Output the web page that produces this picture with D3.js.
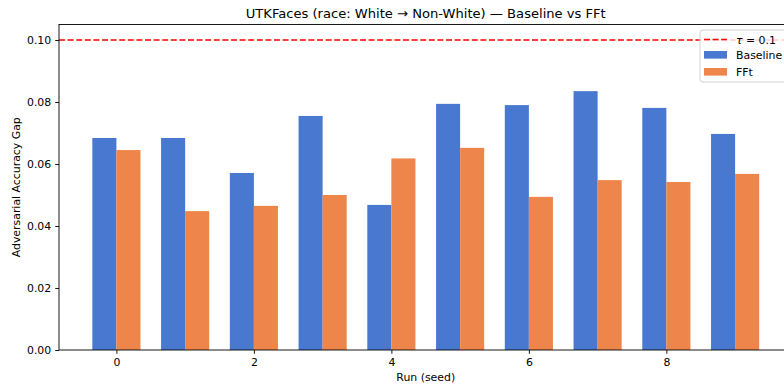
<!DOCTYPE html>
<html>
<head>
<meta charset="utf-8">
<script src="https://cdn.jsdelivr.net/npm/d3@7"></script>
<style>
  body { margin: 0; background: #fff; }
  svg { display: block; font-family: "DejaVu Sans", sans-serif; }
</style>
</head>
<body>
<div id="chart"></div>
<script>
// Data
const runs = [0, 1, 2, 3, 4, 5, 6, 7, 8, 9];
const baseline = [0.0684, 0.0684, 0.0571, 0.0755, 0.0468, 0.0794, 0.0790, 0.0835, 0.0781, 0.0697];
const fft = [0.0645, 0.0448, 0.0465, 0.0500, 0.0618, 0.0652, 0.0494, 0.0548, 0.0542, 0.0568];
const xTicks = [0, 2, 4, 6, 8];
const yTicks = [0, 0.02, 0.04, 0.06, 0.08, 0.10];
const tau = 0.1;

const W = 784, H = 390;
const plot = { left: 59, right: 792.5, top: 24.5, bottom: 350 };
const barW = 0.35;

const svg = d3.select("#chart").append("svg")
    .attr("width", W)
    .attr("height", H);

// matplotlib-like autoscaled domains (5% margins)
const x = d3.scaleLinear()
    .domain([-0.835, 9.835])
    .range([plot.left, plot.right]);

const y = d3.scaleLinear()
    .domain([0, 0.105])
    .range([plot.bottom, plot.top]);

const colors = { baseline: "#4878d0", fft: "#ee854a" };

// Bars
svg.append("g").selectAll("rect.base")
    .data(runs)
    .enter().append("rect")
    .attr("class", "base")
    .attr("x", d => x(d - barW))
    .attr("y", (d, i) => y(baseline[i]))
    .attr("width", d => x(d) - x(d - barW))
    .attr("height", (d, i) => y(0) - y(baseline[i]))
    .attr("fill", colors.baseline);

svg.append("g").selectAll("rect.fft")
    .data(runs)
    .enter().append("rect")
    .attr("class", "fft")
    .attr("x", d => x(d))
    .attr("y", (d, i) => y(fft[i]))
    .attr("width", d => x(d + barW) - x(d))
    .attr("height", (d, i) => y(0) - y(fft[i]))
    .attr("fill", colors.fft);

// Threshold line
svg.append("line")
    .attr("x1", plot.left)
    .attr("x2", plot.right)
    .attr("y1", y(tau))
    .attr("y2", y(tau))
    .attr("stroke", "#ff0000")
    .attr("stroke-width", 1.6)
    .attr("stroke-dasharray", "6,2.6");

// Axes
const xAxis = svg.append("g")
    .attr("transform", `translate(0,${plot.bottom})`)
    .call(d3.axisBottom(x).tickValues(xTicks).tickSize(3.8).tickPadding(4).tickFormat(d3.format("d")));

const yAxis = svg.append("g")
    .attr("transform", `translate(${plot.left},0)`)
    .call(d3.axisLeft(y).tickValues(yTicks).tickSize(3.8).tickPadding(4).tickFormat(d3.format(".2f")));

[xAxis, yAxis].forEach(g => {
    g.select(".domain").remove();
    g.selectAll(".tick line").attr("stroke", "#000").attr("stroke-width", 0.9);
    g.selectAll(".tick text")
        .attr("fill", "#000")
        .style("font-size", "10.9px")
        .style("font-family", "'DejaVu Sans', sans-serif");
});

// Spines
svg.append("rect")
    .attr("x", plot.left)
    .attr("y", plot.top)
    .attr("width", plot.right - plot.left)
    .attr("height", plot.bottom - plot.top)
    .attr("fill", "none")
    .attr("stroke", "#000")
    .attr("stroke-width", 0.9);

// Title and labels
svg.append("text")
    .attr("x", (plot.left + plot.right) / 2)
    .attr("y", 18)
    .attr("text-anchor", "middle")
    .style("font-size", "13.1px")
    .text("UTKFaces (race: White \u2192 Non-White) \u2014 Baseline vs FFt");

svg.append("text")
    .attr("x", (plot.left + plot.right) / 2)
    .attr("y", 381)
    .attr("text-anchor", "middle")
    .style("font-size", "10.9px")
    .text("Run (seed)");

svg.append("text")
    .attr("transform", `translate(20,${(plot.top + plot.bottom) / 2}) rotate(-90)`)
    .attr("text-anchor", "middle")
    .style("font-size", "10.9px")
    .text("Adversarial Accuracy Gap");

// Legend
const legend = svg.append("g").attr("transform", "translate(700,30)");
legend.append("rect")
    .attr("width", 88)
    .attr("height", 52)
    .attr("rx", 3)
    .attr("fill", "#fff")
    .attr("fill-opacity", 0.8)
    .attr("stroke", "#cccccc")
    .attr("stroke-width", 0.9);

legend.append("line")
    .attr("x1", 4).attr("x2", 27)
    .attr("y1", 9.5).attr("y2", 9.5)
    .attr("stroke", "#ff0000")
    .attr("stroke-width", 1.6)
    .attr("stroke-dasharray", "6,2.6");

const tauText = legend.append("text")
    .attr("x", 36).attr("y", 13.5)
    .style("font-size", "10.9px");
tauText.append("tspan").style("font-style", "italic").text("\u03c4");
tauText.append("tspan").text(" = 0.1");

const items = [
    { label: "Baseline", color: colors.baseline },
    { label: "FFt", color: colors.fft }
];
items.forEach((it, i) => {
    const yy = 21 + i * 17;
    legend.append("rect")
        .attr("x", 4).attr("y", yy)
        .attr("width", 23).attr("height", 7.6)
        .attr("fill", it.color);
    legend.append("text")
        .attr("x", 36).attr("y", yy + 8)
        .style("font-size", "10.9px")
        .text(it.label);
});
</script>
</body>
</html>
